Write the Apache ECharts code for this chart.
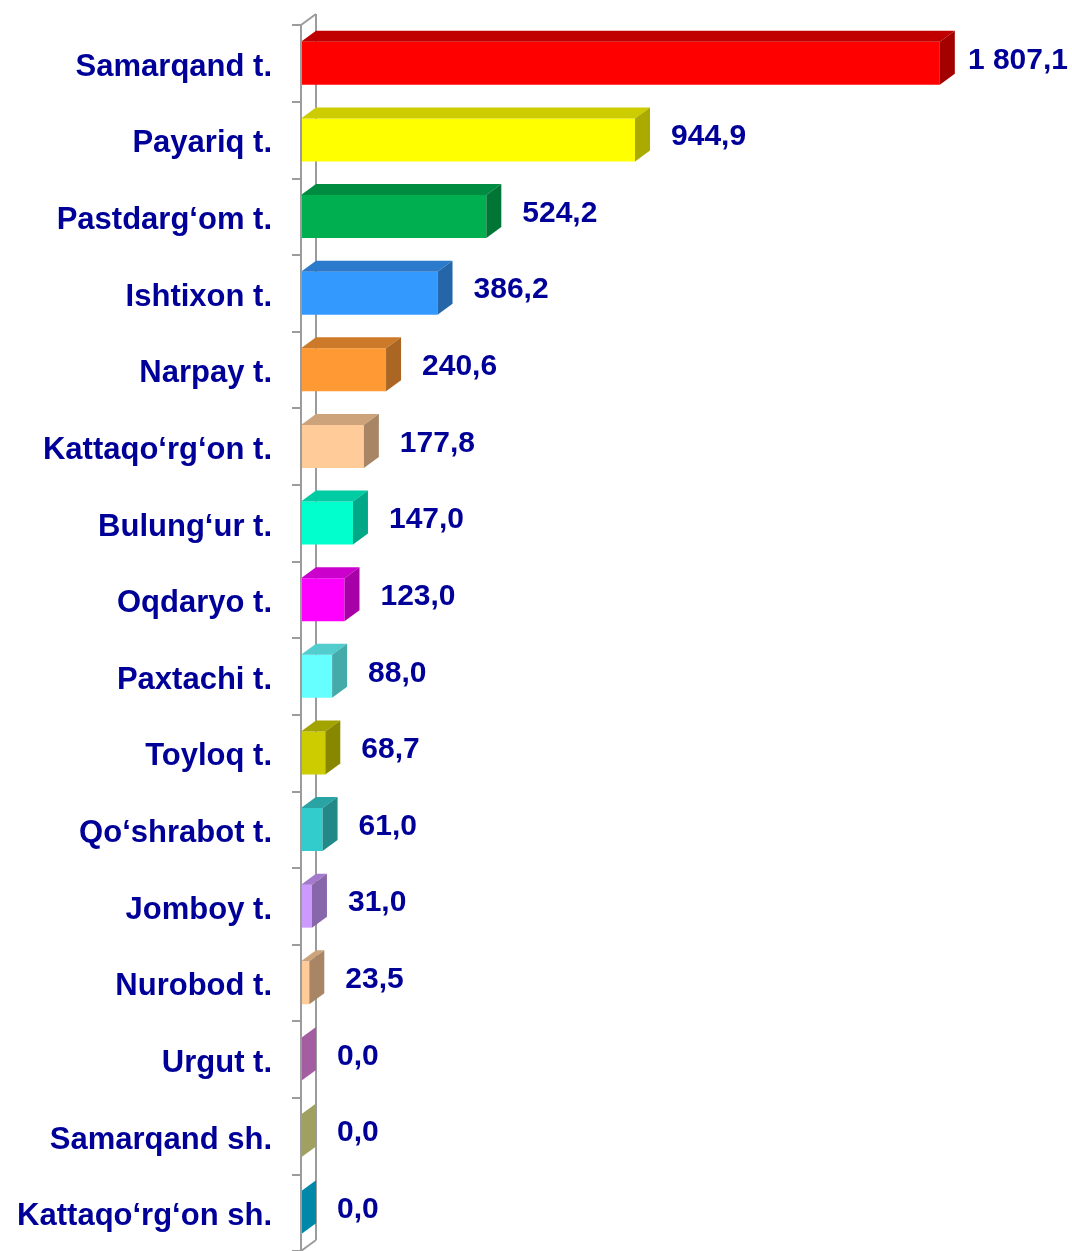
<!DOCTYPE html>
<html>
<head>
<meta charset="utf-8">
<script src="https://cdn.jsdelivr.net/npm/echarts@6/dist/echarts.min.js"></script>
<style>
  html, body { margin: 0; padding: 0; background: #ffffff; }
  #chart { width: 1072px; height: 1251px; }
</style>
</head>
<body>
<div id="chart"></div>
<script>
// Districts and their values (top to bottom)
const districts = [
  'Samarqand t.', 'Payariq t.', 'Pastdarg‘om t.', 'Ishtixon t.', 'Narpay t.',
  'Kattaqo‘rg‘on t.', 'Bulung‘ur t.', 'Oqdaryo t.', 'Paxtachi t.', 'Toyloq t.',
  'Qo‘shrabot t.', 'Jomboy t.', 'Nurobod t.', 'Urgut t.', 'Samarqand sh.',
  'Kattaqo‘rg‘on sh.'
];
const values = [
  1807.1, 944.9, 524.2, 386.2, 240.6,
  177.8, 147.0, 123.0, 88.0, 68.7,
  61.0, 31.0, 23.5, 0.0, 0.0,
  0.0
];

// Box colours per bar: [front, top, side]
const palette = [
  ['#FF0000', '#C00000', '#A30000'],
  ['#FFFF00', '#CCCC00', '#AAAA00'],
  ['#00B050', '#008C40', '#007535'],
  ['#3399FF', '#2B7ACC', '#2566A8'],
  ['#FF9933', '#CC7A29', '#AA6622'],
  ['#FFCC99', '#CCA37A', '#A88565'],
  ['#00FFCC', '#00CCA3', '#00A887'],
  ['#FF00FF', '#CC00CC', '#A800A8'],
  ['#66FFFF', '#52CCCC', '#45AAAA'],
  ['#CCCC00', '#A3A300', '#888800'],
  ['#33CCCC', '#29A3A3', '#228888'],
  ['#CC99FF', '#A37ACC', '#8866AA'],
  ['#FFCC99', '#CCA37A', '#A88565'],
  ['#CC77CC', '#B068AE', '#A45DA0'],
  ['#C8C880', '#B0B070', '#A0A060'],
  ['#00A8CC', '#0098B8', '#0088A8']
];

const DEPTH_X = 15;   // 3D depth offset to the right
const DEPTH_Y = 11;   // 3D depth offset upwards
const AXIS_GRAY = '#9C9C9C';
const TEXT_BLUE = '#000099';
const FONT = '"Liberation Sans", Arial, sans-serif';
const VALUE_FONT = 'bold 30px ' + FONT;

const measureCtx = document.createElement('canvas').getContext('2d');
function textWidth(str, font) {
  measureCtx.font = font;
  return measureCtx.measureText(str).width;
}

function formatValue(v) {
  const parts = v.toFixed(1).split('.');
  const intPart = parts[0].replace(/\B(?=(\d{3})+(?!\d))/g, ' ');
  return intPart + ',' + parts[1];
}

function renderBar(params, api) {
  const idx = api.value(1);
  const v = api.value(0);
  const base = api.coord([0, idx]);
  const end = api.coord([v, idx]);
  const band = api.size([0, 1])[1];
  const h = band * 0.56;
  const x0 = base[0], x1 = end[0], yc = base[1];
  const yt = yc - h / 2, yb = yc + h / 2;
  const c = palette[idx];
  const children = [];
  if (x1 - x0 > 0.5) {
    children.push({
      type: 'rect',
      shape: { x: x0, y: yt, width: x1 - x0, height: h },
      style: { fill: c[0] }
    });
    children.push({
      type: 'polygon',
      shape: { points: [[x0, yt], [x0 + DEPTH_X, yt - DEPTH_Y], [x1 + DEPTH_X, yt - DEPTH_Y], [x1, yt]] },
      style: { fill: c[1] }
    });
  }
  children.push({
    type: 'polygon',
    shape: { points: [[x1, yt], [x1 + DEPTH_X, yt - DEPTH_Y], [x1 + DEPTH_X, yb - DEPTH_Y], [x1, yb]] },
    style: { fill: c[2] }
  });
  // value label to the right of the box, kept inside the canvas
  const label = formatValue(v);
  const w = textWidth(label, VALUE_FONT);
  const maxX = api.getWidth() - 4 - w;
  const lx = Math.min(x1 + DEPTH_X + 21, Math.max(x1 + DEPTH_X + 8, maxX));
  children.push({
    type: 'text',
    style: {
      x: lx,
      y: yc - 3,
      text: label,
      fill: TEXT_BLUE,
      font: VALUE_FONT,
      textAlign: 'left',
      textVerticalAlign: 'middle'
    }
  });
  return { type: 'group', children: children };
}

// Back edge of the category wall, drawn from the axis scale
function renderWall(params, api) {
  const n = districts.length;
  const band = api.size([0, 1])[1];
  const first = api.coord([0, 0]);
  const last = api.coord([0, n - 1]);
  const x = first[0];
  const top = first[1] - band / 2;
  const bottom = last[1] + band / 2;
  const ls = { stroke: AXIS_GRAY, lineWidth: 2, fill: null };
  return {
    type: 'group',
    children: [
      { type: 'line', shape: { x1: x + DEPTH_X, y1: top - DEPTH_Y, x2: x + DEPTH_X, y2: bottom - DEPTH_Y }, style: ls },
      { type: 'line', shape: { x1: x, y1: top, x2: x + DEPTH_X, y2: top - DEPTH_Y }, style: ls },
      { type: 'line', shape: { x1: x, y1: bottom, x2: x + DEPTH_X, y2: bottom - DEPTH_Y }, style: ls }
    ]
  };
}

const chart = echarts.init(document.getElementById('chart'));
chart.setOption({
  animation: false,
  backgroundColor: '#ffffff',
  grid: { left: 301, right: 64, top: 25, bottom: -3, containLabel: false },
  xAxis: {
    type: 'value',
    min: 0,
    max: 2000,
    show: false
  },
  yAxis: {
    type: 'category',
    data: districts,
    inverse: true,
    boundaryGap: true,
    z: 5,
    axisLine: { show: true, lineStyle: { color: AXIS_GRAY, width: 2 } },
    axisTick: { show: true, length: 9, interval: 0, lineStyle: { color: AXIS_GRAY, width: 2 } },
    axisLabel: {
      interval: 0,
      margin: 29,
      color: TEXT_BLUE,
      fontSize: 31,
      fontWeight: 'bold',
      fontFamily: FONT,
      formatter: (name) => '{n|' + name + '}',
      rich: {
        n: {
          color: TEXT_BLUE,
          fontSize: 31,
          fontWeight: 'bold',
          fontFamily: FONT,
          padding: [8, 0, 0, 0]
        }
      }
    },
    splitLine: { show: false }
  },
  series: [
    {
      type: 'custom',
      name: 'wall',
      renderItem: renderWall,
      data: [[0, 0]],
      z: 1,
      silent: true
    },
    {
      type: 'custom',
      name: 'values',
      renderItem: renderBar,
      encode: { x: 0, y: 1 },
      data: values.map((v, i) => [v, i]),
      z: 2
    }
  ]
});
</script>
</body>
</html>
